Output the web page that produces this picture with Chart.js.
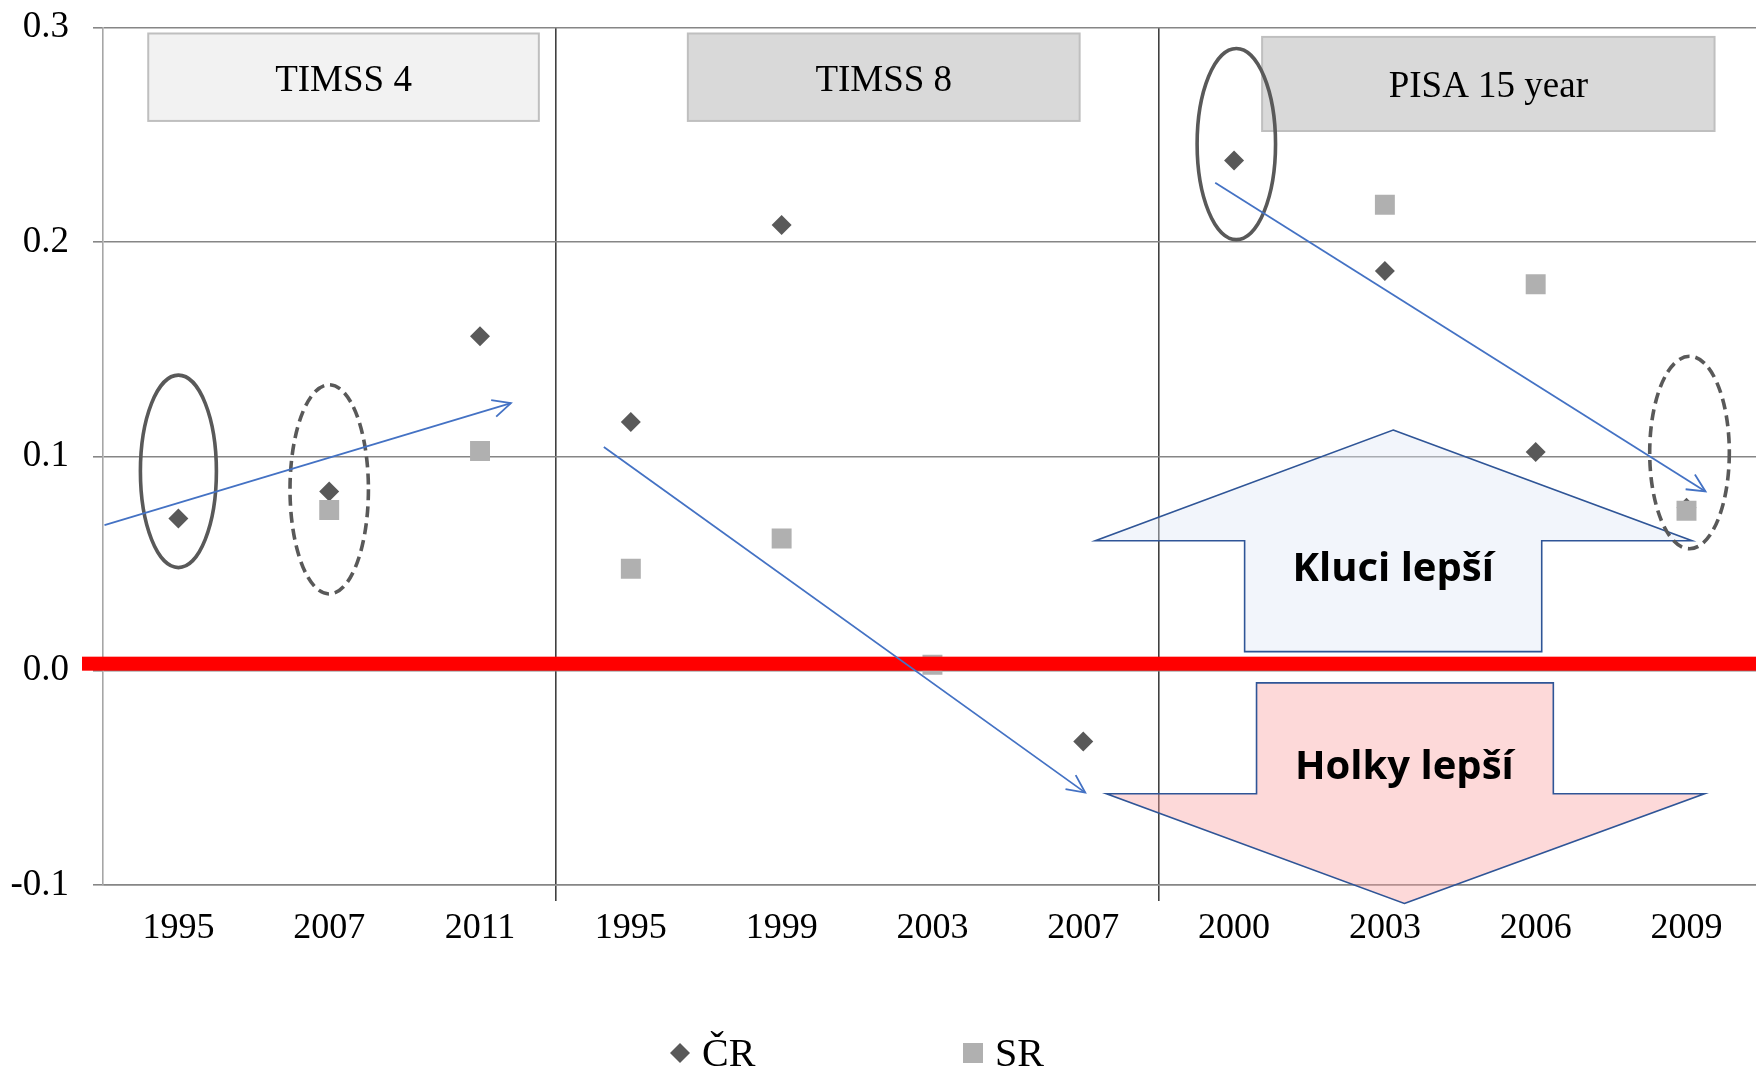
<!DOCTYPE html>
<html><head><meta charset="utf-8">
<script src="https://cdn.jsdelivr.net/npm/chart.js@4/dist/chart.umd.min.js"></script>
<style>html,body{margin:0;padding:0;background:#fff;overflow:hidden;}</style>
</head><body>
<canvas id="c" width="1776" height="1070"></canvas>
<script>
// ---- data ----
const categories = ['1995','2007','2011','1995','1999','2003','2007','2000','2003','2006','2009'];
const groupNames = ['TIMSS 4','TIMSS 8','PISA 15 year'];
const groupStarts = [0, 3, 7];
const crValues = [0.071, 0.0836, 0.156, 0.116, 0.208, null, -0.033, 0.238, 0.1865, 0.102, 0.076];
const srValues = [null, 0.075, 0.1025, 0.0476, 0.0617, 0.0028, null, null, 0.2174, 0.1803, 0.0746];
const yTickLabels = ['-0.1','0.0','0.1','0.2','0.3'];
const seriesNames = ['ČR','SR'];
const arrowTexts = ['Kluci lepší','Holky lepší'];

// ---- styles / annotation geometry (category-index, value units) ----
const SERIF = '"Liberation Serif","Times New Roman",serif';
const crColor = '#595959', srColor = '#B0B0B0';
const boxes = [
  {x0:-0.20, x1:2.39, y0:0.2973, y1:0.2565, fill:'#F2F2F2', ty:0.2752},
  {x0:3.378, x1:5.976, y0:0.2973, y1:0.2565, fill:'#D9D9D9', ty:0.2752},
  {x0:7.186, x1:10.186, y0:0.2957, y1:0.2518, fill:'#D9D9D9', ty:0.2722}
];
const ellipses = [
  {x:0.0, y:0.093, rx:0.252, ry:0.0449, dash:false},
  {x:1.0, y:0.0846, rx:0.26, ry:0.0488, dash:true},
  {x:7.015, y:0.2457, rx:0.26, ry:0.0446, dash:false},
  {x:10.02, y:0.1018, rx:0.264, ry:0.0449, dash:true}
];
const trendArrows = [
  {x0:-0.49, y0:0.0679, x1:2.205, y1:0.1248},
  {x0:2.821, y0:0.1044, x1:6.013, y1:-0.0569},
  {x0:6.875, y0:0.2277, x1:10.126, y1:0.0836}
];
const upArrow = {tipX:8.055, tipY:0.1123, baseY:0.0606, headL:6.08, headR:10.037, shaftL:7.07, shaftR:9.04, endY:0.0089, textY:0.0471, fill:'rgba(222,231,246,0.4)'};
const downArrow = {tipX:8.129, tipY:-0.1086, baseY:-0.0574, headL:6.154, headR:10.119, shaftL:7.149, shaftR:9.117, endY:-0.0057, textY:-0.0454, fill:'rgba(250,160,160,0.4)'};

const annotationPlugin = {
  id:'annot',
  afterDatasetsDraw(chart){
    const ctx = chart.ctx, xs = chart.scales.x, ys = chart.scales.y;
    const X = v => xs.getPixelForValue(v), Y = v => ys.getPixelForValue(v);
    ctx.save();
    boxes.forEach((b,i)=>{
      const x0=X(b.x0), x1=X(b.x1), y0=Y(b.y0), y1=Y(b.y1);
      ctx.fillStyle=b.fill; ctx.fillRect(x0,y0,x1-x0,y1-y0);
      ctx.strokeStyle='#BFBFBF'; ctx.lineWidth=2; ctx.strokeRect(x0,y0,x1-x0,y1-y0);
      ctx.fillStyle='#000'; ctx.font='37px '+SERIF; ctx.textAlign='center'; ctx.textBaseline='middle';
      ctx.fillText(groupNames[i], (x0+x1)/2, Y(b.ty));
    });
    [upArrow, downArrow].forEach((a,i)=>{
      ctx.beginPath();
      ctx.moveTo(X(a.tipX), Y(a.tipY));
      ctx.lineTo(X(a.headR), Y(a.baseY));
      ctx.lineTo(X(a.shaftR), Y(a.baseY));
      ctx.lineTo(X(a.shaftR), Y(a.endY));
      ctx.lineTo(X(a.shaftL), Y(a.endY));
      ctx.lineTo(X(a.shaftL), Y(a.baseY));
      ctx.lineTo(X(a.headL), Y(a.baseY));
      ctx.closePath();
      ctx.fillStyle=a.fill; ctx.fill();
      ctx.strokeStyle='#2F5597'; ctx.lineWidth=1.6; ctx.stroke();
      ctx.fillStyle='#000'; ctx.font='bold 40px "Open Sans","Noto Sans",sans-serif';
      ctx.textAlign='center'; ctx.textBaseline='middle';
      ctx.fillText(arrowTexts[i], X(a.tipX), Y(a.textY));
    });
    const yz = Y(0);
    ctx.fillStyle='#FF0000';
    ctx.fillRect(82, yz-14, chart.width-82, 14);
    ellipses.forEach(e=>{
      const cx=X(e.x), cy=Y(e.y), rx=Math.abs(X(e.x+e.rx)-cx), ry=Math.abs(Y(e.y+e.ry)-cy);
      ctx.beginPath(); ctx.ellipse(cx,cy,rx,ry,0,0,Math.PI*2);
      ctx.strokeStyle='#595959'; ctx.lineWidth=3.6;
      ctx.setLineDash(e.dash?[11,6]:[]); ctx.stroke();
    });
    ctx.setLineDash([]);
    trendArrows.forEach(t=>{
      const x0=X(t.x0), y0=Y(t.y0), x1=X(t.x1), y1=Y(t.y1);
      ctx.strokeStyle='#4472C4'; ctx.lineWidth=1.8;
      ctx.beginPath(); ctx.moveTo(x0,y0); ctx.lineTo(x1,y1); ctx.stroke();
      const ang=Math.atan2(y1-y0,x1-x0), L=20, w=0.45;
      ctx.beginPath();
      ctx.moveTo(x1-L*Math.cos(ang-w), y1-L*Math.sin(ang-w));
      ctx.lineTo(x1,y1);
      ctx.lineTo(x1-L*Math.cos(ang+w), y1-L*Math.sin(ang+w));
      ctx.stroke();
    });
    ctx.restore();
  },
  afterDraw(chart){
    const ctx=chart.ctx; ctx.save();
    const yL=1053;
    const items=[{x:680, style:'diamond', color:crColor},{x:973, style:'square', color:srColor}];
    items.forEach((it,i)=>{
      ctx.fillStyle=it.color;
      if(it.style==='diamond'){
        ctx.beginPath(); ctx.moveTo(it.x,yL-10); ctx.lineTo(it.x+10,yL); ctx.lineTo(it.x,yL+10); ctx.lineTo(it.x-10,yL); ctx.closePath(); ctx.fill();
      } else { ctx.fillRect(it.x-10,yL-10,20,20); }
      ctx.fillStyle='#000'; ctx.font='40px '+SERIF; ctx.textAlign='left'; ctx.textBaseline='middle';
      ctx.fillText(seriesNames[i], it.x+22, yL+2);
    });
    ctx.restore();
  }
};

new Chart(document.getElementById('c'), {
  type:'line',
  data:{
    labels:categories,
    datasets:[
      {label:seriesNames[0], data:crValues, showLine:false, pointStyle:'rectRot', pointRadius:10, pointHoverRadius:10,
       pointBackgroundColor:crColor, pointBorderWidth:0, borderColor:crColor, order:2},
      {label:seriesNames[1], data:srValues, showLine:false, pointStyle:'rect', pointRadius:14.1, pointHoverRadius:14.1,
       pointBackgroundColor:srColor, pointBorderWidth:0, borderColor:srColor, order:1}
    ]
  },
  options:{
    responsive:false, animation:false, devicePixelRatio:1,
    layout:{padding:{top:0,left:0,right:0,bottom:125}},
    plugins:{legend:{display:false}, tooltip:{enabled:false}},
    scales:{
      x:{
        offset:true,
        grid:{offset:true, color:c=>(c.index===groupStarts[1]||c.index===groupStarts[2])?'#404040':'rgba(0,0,0,0)', lineWidth:1.6, tickLength:16},
        border:{color:'#868686', width:1.6},
        ticks:{font:{family:SERIF,size:36}, color:'#000', padding:6, maxRotation:0, autoSkip:false},
        afterFit:a=>{a.height=60;}
      },
      y:{
        min:-0.1, max:0.3,
        grid:{color:'#868686', lineWidth:1.6, tickLength:10},
        border:{color:'#A6A6A6', width:1.6},
        ticks:{stepSize:0.1, font:{family:SERIF,size:37,lineHeight:0.2}, color:'#000', padding:24,
          callback:v=>yTickLabels[Math.round((v+0.1)/0.1)]},
        afterFit:a=>{a.width=103;}
      }
    }
  },
  plugins:[annotationPlugin]
});
</script>
</body></html>
